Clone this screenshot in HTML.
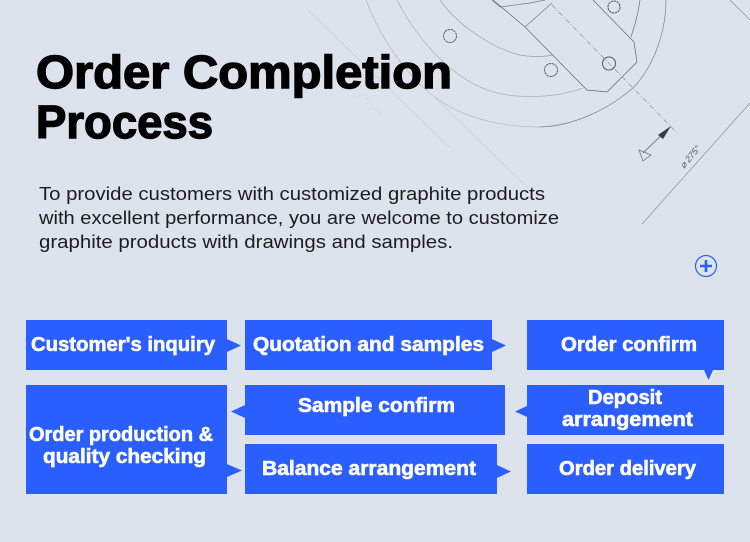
<!DOCTYPE html>
<html><head><meta charset="utf-8"><style>
html,body{margin:0;padding:0;background:#dce3ec}
svg{display:block}
.b{font:bold 20px "Liberation Sans",sans-serif;fill:#fff;stroke:#fff;stroke-width:.6}
.p{font:18px "Liberation Sans",sans-serif;fill:#1c1c1e}
.t{font:bold 46px "Liberation Sans",sans-serif;fill:#000;stroke:#000;stroke-width:1.400}
</style></head><body>
<svg width="750" height="542" viewBox="0 0 750 542" xmlns="http://www.w3.org/2000/svg">
<rect width="750" height="542" fill="#dce3ec"/>
<g fill="none" stroke="#8d8f94" stroke-width=".7">
<path d="M366 0C385 50 415 82 436 98C470 122 510 127 540 127" stroke="#b9b9b8"/>
<path d="M540 127C575 126 610 108 633 88C655 65 666 30 666 0" stroke="#808286"/>
<path d="M397 0C420 45 455 78 487 90C510 98 550 100 583 88" stroke="#b0b0b0"/>
<path d="M440 0C455 22 490 48 520 55C530 57 545 57 552 55" stroke="#a0a0a2"/>
<path d="M640 0C638 15 634 28 631 37" stroke="#6f7074"/>
<path d="M493 0L525 27L587 90L607 92L637 62L634 42L593 0" stroke="#64666a"/>
<path d="M525 27L552 3M492 0L500 7L530 3L545 0" stroke="#77797c"/>
<path d="M552 5L677 133" stroke="#8d8f93" stroke-dasharray="5 2 1 2"/>
<path d="M643 153L670 127" stroke="#55575b"/>
<path d="M750 103L642 224M730 0L750 20" stroke="#8f9195"/>
<path d="M308 10L450 148M427 90L527 187" stroke="#cdd0d2"/>
<path d="M354 97L366 95L372 108L383 115" stroke="#cdd0d3" stroke-dasharray="3 2"/>
<circle cx="450" cy="36" r="6.500" stroke="#606266" stroke-width="1" stroke-dasharray="2.500 .6"/>
<circle cx="551" cy="70" r="6.500" stroke="#606266" stroke-width="1" stroke-dasharray="2.500 .6"/>
<circle cx="614" cy="7" r="6" stroke="#505256" stroke-width="1" stroke-dasharray="2.500 .6"/>
<circle cx="609" cy="63.500" r="6.500" stroke="#55575b" stroke-width="1"/>
<path d="M639 150L651 155L643 161Z" stroke="#6d6f73"/>
</g>
<polygon points="671,126 658,135 663,139" fill="#3a3c40"/>
<text x="0" y="0" transform="translate(684,169) rotate(-50)" font-family="Liberation Sans,sans-serif" font-style="italic" font-size="9" fill="#55575b">⌀ 275°</text>

<text class="t" x="36" y="88" textLength="416" lengthAdjust="spacingAndGlyphs">Order Completion</text>
<text class="t" x="36" y="138" textLength="177" lengthAdjust="spacingAndGlyphs">Process</text>
<text class="p" x="39" y="200" textLength="506" lengthAdjust="spacingAndGlyphs">To provide customers with customized graphite products</text>
<text class="p" x="39" y="224" textLength="520" lengthAdjust="spacingAndGlyphs">with excellent performance, you are welcome to customize</text>
<text class="p" x="39" y="248" textLength="414" lengthAdjust="spacingAndGlyphs">graphite products with drawings and samples.</text>

<circle cx="706" cy="266" r="10.500" fill="none" stroke="#2b5eff" stroke-width="1.200"/>
<path d="M700 266H712M706 260V272" stroke="#2b5eff" stroke-width="2.600"/>

<g fill="#2b5eff">
<rect x="26" y="320" width="201" height="50"/>
<rect x="245" y="320" width="247" height="50"/>
<rect x="527" y="320" width="197" height="50"/>
<rect x="26" y="385" width="201" height="109"/>
<rect x="245" y="385" width="260" height="50"/>
<rect x="527" y="385" width="197" height="50"/>
<rect x="245" y="444" width="252" height="50"/>
<rect x="527" y="444" width="197" height="50"/>
<polygon points="227,339 241,345.500 227,352"/>
<polygon points="492,339 506,345.500 492,352"/>
<polygon points="704,370 713,370 708.500,380"/>
<polygon points="527,406 515,411.500 527,417"/>
<polygon points="245,405 231,411.500 245,418"/>
<polygon points="227,464 242,470.500 227,477"/>
<polygon points="497,465 511,471.500 497,478"/>
</g>
<text class="b" x="31" y="351" textLength="184" lengthAdjust="spacingAndGlyphs">Customer's inquiry</text>
<text class="b" x="253" y="351" textLength="231" lengthAdjust="spacingAndGlyphs">Quotation and samples</text>
<text class="b" x="561" y="351" textLength="136" lengthAdjust="spacingAndGlyphs">Order confirm</text>
<text class="b" x="298" y="412" textLength="157" lengthAdjust="spacingAndGlyphs">Sample confirm</text>
<text class="b" x="588" y="404" textLength="74" lengthAdjust="spacingAndGlyphs">Deposit</text>
<text class="b" x="562" y="426" textLength="131" lengthAdjust="spacingAndGlyphs">arrangement</text>
<text class="b" x="29" y="441" textLength="184" lengthAdjust="spacingAndGlyphs">Order production &amp;</text>
<text class="b" x="43" y="463" textLength="163" lengthAdjust="spacingAndGlyphs">quality checking</text>
<text class="b" x="262" y="475" textLength="214" lengthAdjust="spacingAndGlyphs">Balance arrangement</text>
<text class="b" x="559" y="475" textLength="137" lengthAdjust="spacingAndGlyphs">Order delivery</text>
</svg>
</body></html>
